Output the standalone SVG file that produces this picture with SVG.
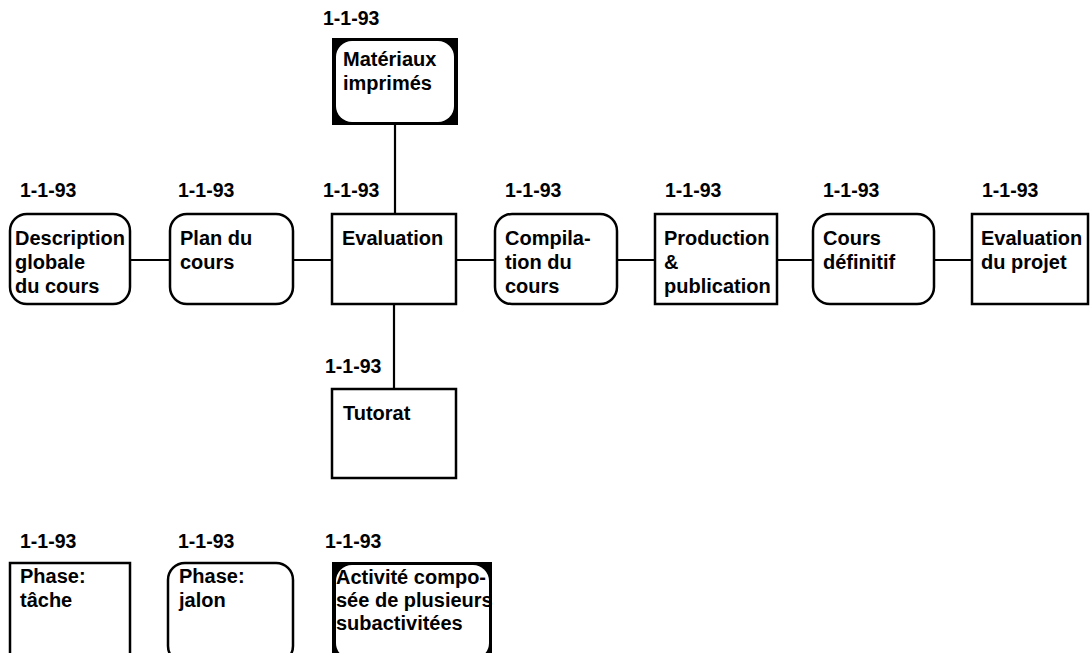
<svg xmlns="http://www.w3.org/2000/svg" width="1092" height="653" viewBox="0 0 1092 653">
  <style>
    text { font-family: "Liberation Sans", Arial, Helvetica, sans-serif; font-size: 20px; font-weight: bold; fill: #000; }
    .date { font-size: 19.5px; }
    .task { fill: #fff; stroke: #000; stroke-width: 2.5; }
    .milestone { fill: #fff; stroke: #000; stroke-width: 2.5; }
    .frame { fill: #000; }
    .inner { fill: #fff; }
    .link { stroke: #000; stroke-width: 2.2; fill: none; }
  </style>
  <rect width="1092" height="653" fill="#fff"/>

  <!-- connectors -->
  <g id="connectors">
    <line class="link" x1="130" y1="260" x2="170" y2="260"/>
    <line class="link" x1="293" y1="260" x2="332" y2="260"/>
    <line class="link" x1="456" y1="260" x2="495" y2="260"/>
    <line class="link" x1="617" y1="260" x2="655" y2="260"/>
    <line class="link" x1="777" y1="260" x2="813" y2="260"/>
    <line class="link" x1="934" y1="260" x2="972" y2="260"/>
    <line class="link" x1="395" y1="125" x2="395" y2="214"/>
    <line class="link" x1="394" y1="304" x2="394" y2="389"/>
  </g>

  <!-- main row -->
  <g id="description">
    <text class="date" x="20" y="197">1-1-93</text>
    <rect class="milestone" x="10" y="214" width="120" height="90" rx="17"/>
    <text x="15" y="245">Description</text>
    <text x="15" y="269">globale</text>
    <text x="15" y="293">du cours</text>
  </g>
  <g id="plan">
    <text class="date" x="178" y="197">1-1-93</text>
    <rect class="milestone" x="170" y="214" width="123" height="90" rx="17"/>
    <text x="180" y="245">Plan du</text>
    <text x="180" y="269">cours</text>
  </g>
  <g id="evaluation">
    <text class="date" x="323" y="197">1-1-93</text>
    <rect class="task" x="332" y="214" width="124" height="90"/>
    <text x="342" y="245">Evaluation</text>
  </g>
  <g id="compilation">
    <text class="date" x="505" y="197">1-1-93</text>
    <rect class="milestone" x="495" y="214" width="122" height="90" rx="17"/>
    <text x="505" y="245">Compila-</text>
    <text x="505" y="269">tion du</text>
    <text x="505" y="293">cours</text>
  </g>
  <g id="production">
    <text class="date" x="665" y="197">1-1-93</text>
    <rect class="task" x="655" y="214" width="122" height="90"/>
    <text x="664" y="245">Production</text>
    <text x="664" y="269">&amp;</text>
    <text x="664" y="293">publication</text>
  </g>
  <g id="cours-definitif">
    <text class="date" x="823" y="197">1-1-93</text>
    <rect class="milestone" x="813" y="214" width="121" height="90" rx="17"/>
    <text x="823" y="245">Cours</text>
    <text x="823" y="269">définitif</text>
  </g>
  <g id="evaluation-projet">
    <text class="date" x="982" y="197">1-1-93</text>
    <rect class="task" x="972" y="214" width="116" height="90"/>
    <text x="981" y="245">Evaluation</text>
    <text x="981" y="269">du projet</text>
  </g>

  <!-- composite activity above -->
  <g id="materiaux">
    <text class="date" x="323" y="25">1-1-93</text>
    <rect class="frame" x="332" y="38" width="126" height="87"/>
    <rect class="inner" x="336" y="41" width="118" height="81" rx="16"/>
    <text x="343" y="66">Matériaux</text>
    <text x="343" y="90">imprimés</text>
  </g>

  <!-- task below -->
  <g id="tutorat">
    <text class="date" x="325" y="373">1-1-93</text>
    <rect class="task" x="332" y="389" width="124" height="89"/>
    <text x="343" y="420">Tutorat</text>
  </g>

  <!-- legend -->
  <g id="legend-task">
    <text class="date" x="20" y="548">1-1-93</text>
    <rect class="task" x="10" y="563" width="120" height="100"/>
    <text x="20" y="583">Phase:</text>
    <text x="20" y="607">tâche</text>
  </g>
  <g id="legend-milestone">
    <text class="date" x="178" y="548">1-1-93</text>
    <rect class="milestone" x="168" y="563" width="125" height="100" rx="17"/>
    <text x="179" y="583">Phase:</text>
    <text x="179" y="607">jalon</text>
  </g>
  <g id="legend-composite">
    <text class="date" x="325" y="548">1-1-93</text>
    <rect class="frame" x="332" y="562" width="160" height="100"/>
    <rect class="inner" x="336" y="565" width="153" height="94" rx="16"/>
    <text x="336" y="584">Activité compo-</text>
    <text x="336" y="607">sée de plusieurs</text>
    <text x="336" y="630">subactivitées</text>
  </g>
</svg>
